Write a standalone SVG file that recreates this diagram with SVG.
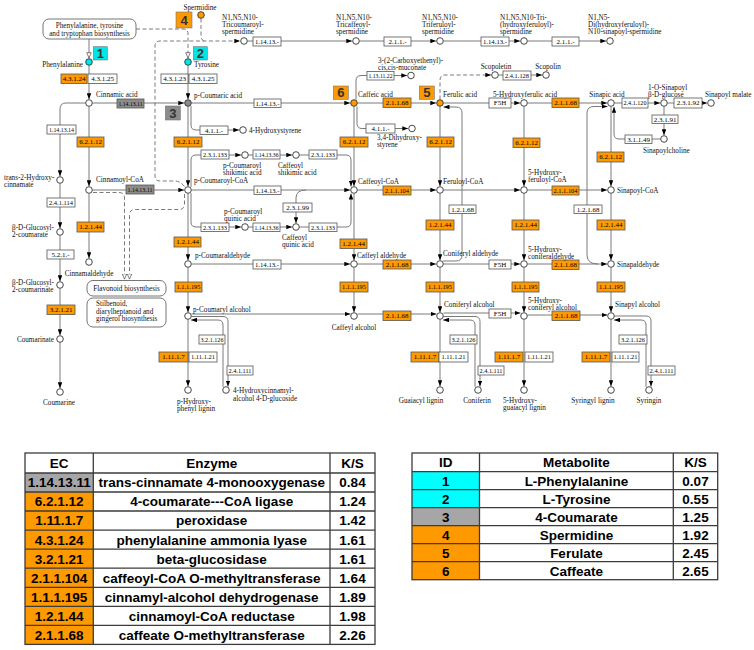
<svg xmlns="http://www.w3.org/2000/svg" width="754" height="650" viewBox="0 0 754 650">
<defs>
<marker id="ar" viewBox="0 0 8 6" refX="8" refY="3" markerWidth="6" markerHeight="4.5" markerUnits="userSpaceOnUse" orient="auto"><path d="M0,0L8,3L0,6z" fill="#000"/></marker>
<marker id="ho" viewBox="0 0 8 7" refX="8" refY="3.5" markerWidth="6" markerHeight="5.25" markerUnits="userSpaceOnUse" orient="auto"><path d="M0.5,0.5L7.5,3.5L0.5,6.5z" fill="#fff" stroke="#444" stroke-width="0.9"/></marker>
</defs>
<style>
.c{stroke:#7a7a7a;stroke-width:1;fill:none}
.a{marker-end:url(#ar)}
.h{marker-end:url(#ho)}
.d{stroke-dasharray:4 2.5}
.n{fill:#fff;stroke:#333;stroke-width:0.9}
.bx{fill:#fff;stroke:#555;stroke-width:0.8}
.o{fill:#FF9900}
.g{fill:#8C8C8C}
.cy{fill:#00E5E5}
.t{font-family:"Liberation Serif","Times New Roman",serif;font-size:7.2px;fill:#111}
.m{text-anchor:middle}
.r{text-anchor:end}
.e{font-family:"Liberation Serif","Times New Roman",serif;font-size:7px;text-anchor:middle;fill:#000}
.mp{fill:#fff;stroke:#666;stroke-width:0.9}
.nb{stroke:#777;stroke-width:0.6}
.id{font-family:"Liberation Sans",Arial,sans-serif;font-weight:bold;font-size:13px;text-anchor:middle;fill:#333}
.tb{font-family:"Liberation Sans",Arial,sans-serif;font-weight:bold;font-size:13.5px;text-anchor:middle;fill:#000}
.gl{stroke:#3c3c3c;stroke-width:1.3;fill:none}
</style>

<g id="connectors">
<path class="c h" d="M89,39V58.3"/>
<path class="c d h" d="M136,29H183Q188,29 188,34V58.3"/>
<path class="c a" d="M89,65.5V99.3"/>
<path class="c a" d="M188,65.5V99.3"/>
<path class="c a" d="M92.5,103H184.3"/>
<path class="c a" d="M85.5,103H66Q60,103 60,109V176.3"/>
<path class="c a" d="M60,183.5V228.3"/>
<path class="c a" d="M60,235.5V281.3"/>
<path class="c a" d="M60,288.5V335.3"/>
<path class="c a" d="M60,342.5V388.3"/>
<path class="c a" d="M89,106.5V186.3"/>
<path class="c a" d="M89,193.5V258.3"/>
<path class="c a" d="M92.5,190H184.3"/>
<path class="c a" d="M191.5,103H350.3"/>
<path class="c a" d="M188,106.5V186.3"/>
<path class="c a" d="M191,106V125Q191,130 196,130H239.3"/>
<path class="c a" d="M191,187V160Q191,155 196,155H241.3"/>
<path class="c a" d="M248.5,155H292.3"/>
<path class="c a" d="M299.5,155H346Q351,155 351,160V186.5"/>
<path class="c a" d="M191,193V222Q191,227 196,227H241.3"/>
<path class="c a" d="M248.5,227H292.3"/>
<path class="c a" d="M299.5,227H346Q351,227 351,222V193.5"/>
<path class="c a" d="M306,190Q296,190 296,198V223.3"/>
<path class="c a" d="M191.5,190H350.3"/>
<path class="c a" d="M188,193.5V260.3"/>
<path class="c a" d="M188,267.5V312.3"/>
<path class="c a" d="M188,319.5V386.3"/>
<path class="c a" d="M191.5,264H350.3"/>
<path class="c a" d="M191.5,314H350.5"/>
<path class="c a" d="M191.5,316.5H223Q228,316.5 228,321.5V386.5"/>
<path class="c a" d="M223,386.8V325Q223,320 218,320H191"/>
<path class="c a" d="M354,106.5V186.3"/>
<path class="c a" d="M354,193.5V260.3"/>
<path class="c a" d="M354,267.5V312.3"/>
<path class="c a" d="M356,99.5V81Q356,75.5 361,75.5H407.3"/>
<path class="c a" d="M357,106.5V123.5Q357,128.5 362,128.5H408.3"/>
<path class="c a" d="M357.5,103H436.3"/>
<path class="c a" d="M357.5,190H436.3"/>
<path class="c a" d="M357.5,264H436.3"/>
<path class="c a" d="M357.5,314H436.5"/>
<path class="c a" d="M440,106.5V186.3"/>
<path class="c a" d="M440,193.5V260.3"/>
<path class="c a" d="M440,267.5V312.3"/>
<path class="c a" d="M440,319.5V386.3"/>
<path class="c d a" d="M440,99.5V80Q440,75 445,75H491.3"/>
<path class="c a" d="M498.5,75H542.3"/>
<path class="c a" d="M443,261H456Q462,261 462,255V113Q462,107 456,107H443.5"/>
<path class="c a" d="M443.5,316.5H475Q480,316.5 480,321.5V386.5"/>
<path class="c a" d="M475,386.8V325Q475,320 470,320H443"/>
<path class="c a" d="M443.5,103H520.3"/>
<path class="c a" d="M443.5,190H520.3"/>
<path class="c a" d="M443.5,264H520.3"/>
<path class="c a" d="M443.5,313H520.5"/>
<path class="c a" d="M524,106.5V186.3"/>
<path class="c a" d="M524,193.5V260.3"/>
<path class="c a" d="M524,267.5V312.3"/>
<path class="c a" d="M524,319.5V386.3"/>
<path class="c a" d="M527.5,103H607.3"/>
<path class="c a" d="M527.5,190H607.3"/>
<path class="c a" d="M527.5,264H607.3"/>
<path class="c a" d="M527.5,315H607.5"/>
<path class="c a" d="M611,106.5V186.3"/>
<path class="c a" d="M611,193.5V260.3"/>
<path class="c a" d="M611,267.5V312.3"/>
<path class="c a" d="M611,319.5V386.3"/>
<path class="c a" d="M598,264Q587,264 587,255V113Q587,106.5 594,106.5H607.5"/>
<path class="c a" d="M614.5,316H646Q651,316 651,321V386.5"/>
<path class="c a" d="M646,386.8V325Q646,320 641,320H614"/>
<path class="c a" d="M614.5,103H660.3"/>
<path class="c a" d="M667.5,103H707.3"/>
<path class="c a" d="M664,106.5V135.3"/>
<path class="c a" d="M660.5,139H619Q614,139 614,134V106.8"/>
<path class="c a" d="M247.5,41H352.3"/>
<path class="c a" d="M359.5,41H436.3"/>
<path class="c a" d="M443.5,41H520.3"/>
<path class="c a" d="M527.5,41H606.3"/>
<path class="c d" d="M201,18.5V36Q201,41 206,41"/>
<path class="c d a" d="M184.5,186.5Q180,181 175,181H160Q155,181 155,176V46Q155,41 160,41H240.3"/>
<path class="c d h" d="M93,192.5H119Q124.5,192.5 124.5,198V279.5"/>
<path class="c d h" d="M184.5,194V204Q184.5,209.5 179,209.5H135Q129.5,209.5 129.5,215V279.5"/>
</g>

<g id="maps">
<g id="map_phe"><rect class="mp" x="43" y="19" width="93" height="20" rx="6"/><text class="t m" x="89.5" y="28">Phenylalanine, tyrosine</text><text class="t m" x="89.5" y="35.5">and tryptophan biosynthesis</text></g>
<g id="map_flav"><rect class="mp" x="87" y="280.5" width="79" height="15.5" rx="6"/><text class="t m" x="126.5" y="291">Flavonoid biosynthesis</text></g>
<g id="map_stil"><rect class="mp" x="87" y="298" width="79" height="29" rx="6"/><text class="t" x="96" y="306">Stilbenoid,</text><text class="t" x="96" y="313.5">diarylheptanoid and</text><text class="t" x="96" y="321">gingerol biosynthesis</text></g>
</g>

<g id="enzymes">
<g id="e01"><rect class="bx" x="253" y="37" width="28" height="9"/><text class="e" x="267" y="43.9" textLength="24" lengthAdjust="spacingAndGlyphs">1.14.13.-</text></g>
<g id="e02"><rect class="bx" x="384" y="37" width="27" height="9"/><text class="e" x="397.5" y="43.9">2.1.1.-</text></g>
<g id="e03"><rect class="bx" x="481" y="37" width="28" height="9"/><text class="e" x="495" y="43.9" textLength="24" lengthAdjust="spacingAndGlyphs">1.14.13.-</text></g>
<g id="e04"><rect class="bx" x="552" y="37" width="27" height="9"/><text class="e" x="565.5" y="43.9">2.1.1.-</text></g>
<g id="e05"><rect class="bx o" x="61" y="74" width="26" height="9.5"/><text class="e" x="74" y="81.15">4.3.1.24</text></g>
<g id="e06"><rect class="bx" x="88" y="74" width="29" height="9.5"/><text class="e" x="102.5" y="81.15">4.3.1.25</text></g>
<g id="e07"><rect class="bx" x="161" y="74" width="27" height="9.5"/><text class="e" x="174.5" y="81.15">4.3.1.23</text></g>
<g id="e08"><rect class="bx" x="189" y="74" width="28" height="9.5"/><text class="e" x="203" y="81.15">4.3.1.25</text></g>
<g id="e09"><rect class="bx g" x="117" y="99" width="27" height="9"/><text class="e" x="130.5" y="105.9" textLength="24" lengthAdjust="spacingAndGlyphs">1.14.13.11</text></g>
<g id="e10"><rect class="bx" x="254" y="99" width="27" height="8.5"/><text class="e" x="267.5" y="105.65" textLength="24" lengthAdjust="spacingAndGlyphs">1.14.13.-</text></g>
<g id="e11"><rect class="bx o" x="383" y="98" width="28" height="9.5"/><text class="e" x="397" y="105.15">2.1.1.68</text></g>
<g id="e12"><rect class="bx" x="489" y="98" width="22" height="10"/><text class="e" x="500" y="105.4">F5H</text></g>
<g id="e13"><rect class="bx o" x="552" y="98" width="27" height="9.5"/><text class="e" x="565.5" y="105.15">2.1.1.68</text></g>
<g id="e14"><rect class="bx" x="622" y="98" width="26" height="10"/><text class="e" x="635" y="105.4" textLength="23" lengthAdjust="spacingAndGlyphs">2.4.1.120</text></g>
<g id="e15"><rect class="bx" x="674" y="98" width="28" height="10"/><text class="e" x="688" y="105.4">2.3.1.92</text></g>
<g id="e16"><rect class="bx" x="367" y="71.5" width="27" height="8.5"/><text class="e" x="380.5" y="78.15" textLength="24" lengthAdjust="spacingAndGlyphs">1.13.11.22</text></g>
<g id="e17"><rect class="bx" x="200" y="126" width="28" height="8.5"/><text class="e" x="214" y="132.65">4.1.1.-</text></g>
<g id="e18"><rect class="bx" x="366" y="124" width="29" height="9"/><text class="e" x="380.5" y="130.9">4.1.1.-</text></g>
<g id="e19"><rect class="bx" x="503" y="71" width="28" height="9"/><text class="e" x="517" y="77.9" textLength="24" lengthAdjust="spacingAndGlyphs">2.4.1.128</text></g>
<g id="e20"><rect class="bx" x="652" y="115" width="26" height="8.5"/><text class="e" x="665" y="121.65">2.3.1.91</text></g>
<g id="e21"><rect class="bx" x="625" y="135" width="27" height="8.5"/><text class="e" x="638.5" y="141.65">3.1.1.49</text></g>
<g id="e22"><rect class="bx" x="47" y="125" width="29" height="9"/><text class="e" x="61.5" y="131.9" textLength="25" lengthAdjust="spacingAndGlyphs">1.14.13.14</text></g>
<g id="e23"><rect class="bx o" x="77" y="137" width="27" height="10"/><text class="e" x="90.5" y="144.4">6.2.1.12</text></g>
<g id="e24"><rect class="bx o" x="174" y="137" width="28" height="10"/><text class="e" x="188" y="144.4">6.2.1.12</text></g>
<g id="e25"><rect class="bx o" x="340" y="137" width="28" height="10"/><text class="e" x="354" y="144.4">6.2.1.12</text></g>
<g id="e26"><rect class="bx o" x="427" y="137" width="27" height="10"/><text class="e" x="440.5" y="144.4">6.2.1.12</text></g>
<g id="e27"><rect class="bx o" x="513" y="138" width="27" height="9.5"/><text class="e" x="526.5" y="145.15">6.2.1.12</text></g>
<g id="e28"><rect class="bx o" x="597" y="152" width="27" height="10"/><text class="e" x="610.5" y="159.4">6.2.1.12</text></g>
<g id="e29"><rect class="bx" x="47" y="198" width="28" height="9"/><text class="e" x="61" y="204.9" textLength="24" lengthAdjust="spacingAndGlyphs">2.4.1.114</text></g>
<g id="e30"><rect class="bx g" x="126" y="185" width="28" height="9"/><text class="e" x="140" y="191.9" textLength="25" lengthAdjust="spacingAndGlyphs">1.14.13.11</text></g>
<g id="e31"><rect class="bx" x="201" y="150" width="28" height="9"/><text class="e" x="215" y="156.9" textLength="24" lengthAdjust="spacingAndGlyphs">2.3.1.133</text></g>
<g id="e32"><rect class="bx" x="253" y="150" width="27" height="9"/><text class="e" x="266.5" y="156.9" textLength="24" lengthAdjust="spacingAndGlyphs">1.14.13.36</text></g>
<g id="e33"><rect class="bx" x="309" y="150" width="28" height="9"/><text class="e" x="323" y="156.9" textLength="24" lengthAdjust="spacingAndGlyphs">2.3.1.133</text></g>
<g id="e34"><rect class="bx" x="254" y="186" width="27" height="8.5"/><text class="e" x="267.5" y="192.65" textLength="24" lengthAdjust="spacingAndGlyphs">1.14.13.-</text></g>
<g id="e35"><rect class="bx" x="283" y="203" width="29" height="9"/><text class="e" x="297.5" y="209.9">2.3.1.99</text></g>
<g id="e36"><rect class="bx" x="201" y="223" width="28" height="8.5"/><text class="e" x="215" y="229.65" textLength="24" lengthAdjust="spacingAndGlyphs">2.3.1.133</text></g>
<g id="e37"><rect class="bx" x="253" y="223" width="27" height="8.5"/><text class="e" x="266.5" y="229.65" textLength="24" lengthAdjust="spacingAndGlyphs">1.14.13.36</text></g>
<g id="e38"><rect class="bx" x="309" y="223" width="28" height="8.5"/><text class="e" x="323" y="229.65" textLength="24" lengthAdjust="spacingAndGlyphs">2.3.1.133</text></g>
<g id="e39"><rect class="bx o" x="383" y="186" width="28" height="9"/><text class="e" x="397" y="192.9" textLength="24" lengthAdjust="spacingAndGlyphs">2.1.1.104</text></g>
<g id="e40"><rect class="bx o" x="552" y="186" width="27" height="9"/><text class="e" x="565.5" y="192.9" textLength="24" lengthAdjust="spacingAndGlyphs">2.1.1.104</text></g>
<g id="e41"><rect class="bx" x="449" y="205" width="27" height="8.5"/><text class="e" x="462.5" y="211.65">1.2.1.68</text></g>
<g id="e42"><rect class="bx" x="574" y="205" width="28" height="8.5"/><text class="e" x="588" y="211.65">1.2.1.68</text></g>
<g id="e43"><rect class="bx o" x="77" y="222" width="27" height="10"/><text class="e" x="90.5" y="229.4">1.2.1.44</text></g>
<g id="e44"><rect class="bx o" x="174" y="237" width="27" height="10"/><text class="e" x="187.5" y="244.4">1.2.1.44</text></g>
<g id="e45"><rect class="bx o" x="340" y="239" width="27" height="9.5"/><text class="e" x="353.5" y="246.15">1.2.1.44</text></g>
<g id="e46"><rect class="bx o" x="426" y="220" width="28" height="10"/><text class="e" x="440" y="227.4">1.2.1.44</text></g>
<g id="e47"><rect class="bx o" x="512" y="220" width="27" height="10"/><text class="e" x="525.5" y="227.4">1.2.1.44</text></g>
<g id="e48"><rect class="bx o" x="597" y="220" width="28" height="10"/><text class="e" x="611" y="227.4">1.2.1.44</text></g>
<g id="e49"><rect class="bx" x="47" y="250" width="27" height="9"/><text class="e" x="60.5" y="256.9">5.2.1.-</text></g>
<g id="e50"><rect class="bx" x="253" y="260" width="28" height="9"/><text class="e" x="267" y="266.9" textLength="24" lengthAdjust="spacingAndGlyphs">1.14.13.-</text></g>
<g id="e51"><rect class="bx o" x="383" y="260" width="28" height="9"/><text class="e" x="397" y="266.9">2.1.1.68</text></g>
<g id="e52"><rect class="bx" x="489" y="260" width="22" height="9"/><text class="e" x="500" y="266.9">F5H</text></g>
<g id="e53"><rect class="bx o" x="552" y="260" width="27" height="9.5"/><text class="e" x="565.5" y="267.15">2.1.1.68</text></g>
<g id="e54"><rect class="bx o" x="175" y="282" width="27" height="10"/><text class="e" x="188.5" y="289.4" textLength="24" lengthAdjust="spacingAndGlyphs">1.1.1.195</text></g>
<g id="e55"><rect class="bx o" x="340" y="282" width="28" height="10"/><text class="e" x="354" y="289.4" textLength="24" lengthAdjust="spacingAndGlyphs">1.1.1.195</text></g>
<g id="e56"><rect class="bx o" x="426" y="282" width="28" height="10"/><text class="e" x="440" y="289.4" textLength="24" lengthAdjust="spacingAndGlyphs">1.1.1.195</text></g>
<g id="e57"><rect class="bx o" x="512" y="282" width="27" height="10"/><text class="e" x="525.5" y="289.4" textLength="24" lengthAdjust="spacingAndGlyphs">1.1.1.195</text></g>
<g id="e58"><rect class="bx o" x="597" y="282" width="28" height="10"/><text class="e" x="611" y="289.4" textLength="24" lengthAdjust="spacingAndGlyphs">1.1.1.195</text></g>
<g id="e59"><rect class="bx o" x="47" y="305" width="28" height="9.5"/><text class="e" x="61" y="312.15">3.2.1.21</text></g>
<g id="e60"><rect class="bx o" x="383" y="311" width="28" height="9.5"/><text class="e" x="397" y="318.15">2.1.1.68</text></g>
<g id="e61"><rect class="bx" x="489" y="309" width="22" height="9"/><text class="e" x="500" y="315.9">F5H</text></g>
<g id="e62"><rect class="bx o" x="552" y="311" width="28" height="9.5"/><text class="e" x="566" y="318.15">2.1.1.68</text></g>
<g id="e63"><rect class="bx" x="199" y="335" width="26" height="9"/><text class="e" x="212" y="341.9" textLength="23" lengthAdjust="spacingAndGlyphs">3.2.1.126</text></g>
<g id="e64"><rect class="bx" x="450" y="335" width="27" height="9"/><text class="e" x="463.5" y="341.9" textLength="24" lengthAdjust="spacingAndGlyphs">3.2.1.126</text></g>
<g id="e65"><rect class="bx" x="619" y="335" width="28" height="9"/><text class="e" x="633" y="341.9" textLength="24" lengthAdjust="spacingAndGlyphs">3.2.1.126</text></g>
<g id="e66"><rect class="bx o" x="159" y="352" width="29" height="10"/><text class="e" x="173.5" y="359.4">1.11.1.7</text></g>
<g id="e67"><rect class="bx o" x="411" y="352" width="28" height="10"/><text class="e" x="425" y="359.4">1.11.1.7</text></g>
<g id="e68"><rect class="bx o" x="495" y="352" width="28" height="10"/><text class="e" x="509" y="359.4">1.11.1.7</text></g>
<g id="e69"><rect class="bx o" x="582" y="352" width="28" height="10"/><text class="e" x="596" y="359.4">1.11.1.7</text></g>
<g id="e70"><rect class="bx" x="189" y="352" width="28" height="10"/><text class="e" x="203" y="359.4" textLength="24" lengthAdjust="spacingAndGlyphs">1.11.1.21</text></g>
<g id="e71"><rect class="bx" x="439" y="352" width="29" height="10"/><text class="e" x="453.5" y="359.4" textLength="24" lengthAdjust="spacingAndGlyphs">1.11.1.21</text></g>
<g id="e72"><rect class="bx" x="525" y="352" width="28" height="10"/><text class="e" x="539" y="359.4" textLength="24" lengthAdjust="spacingAndGlyphs">1.11.1.21</text></g>
<g id="e73"><rect class="bx" x="612" y="352" width="27" height="10"/><text class="e" x="625.5" y="359.4" textLength="24" lengthAdjust="spacingAndGlyphs">1.11.1.21</text></g>
<g id="e74"><rect class="bx" x="227" y="366" width="26" height="9"/><text class="e" x="240" y="372.9" textLength="23" lengthAdjust="spacingAndGlyphs">2.4.1.111</text></g>
<g id="e75"><rect class="bx" x="478" y="366" width="26" height="9"/><text class="e" x="491" y="372.9" textLength="23" lengthAdjust="spacingAndGlyphs">2.4.1.111</text></g>
<g id="e76"><rect class="bx" x="648" y="366" width="27" height="9"/><text class="e" x="661.5" y="372.9" textLength="24" lengthAdjust="spacingAndGlyphs">2.4.1.111</text></g>
</g>

<g id="compounds">
<g id="c_spd"><circle class="n o" cx="201" cy="15" r="3.3"/><text class="t m" x="200" y="9.5">Spermidine</text></g>
<g id="c_tricou"><circle class="n" cx="244" cy="41" r="3.3"/><text class="t" x="222" y="19.5">N1,N5,N10-</text><text class="t" x="222" y="26.5">Tricoumaroyl-</text><text class="t" x="222" y="33.5">spermidine</text></g>
<g id="c_tricaf"><circle class="n" cx="356" cy="41" r="3.3"/><text class="t" x="336" y="19.5">N1,N5,N10-</text><text class="t" x="336" y="26.5">Tricaffeoyl-</text><text class="t" x="336" y="33.5">spermidine</text></g>
<g id="c_trifer"><circle class="n" cx="440" cy="41" r="3.3"/><text class="t" x="422" y="19.5">N1,N5,N10-</text><text class="t" x="422" y="26.5">Triferuloyl-</text><text class="t" x="422" y="33.5">spermidine</text></g>
<g id="c_trihf"><circle class="n" cx="524" cy="41" r="3.3"/><text class="t" x="500" y="19.5">N1,N5,N10-Tri-</text><text class="t" x="500" y="26.5">(hydroxyferuloyl)-</text><text class="t" x="500" y="33.5">spermidine</text></g>
<g id="c_dihf"><circle class="n" cx="610" cy="41" r="3.3"/><text class="t" x="588" y="19.5">N1,N5-</text><text class="t" x="588" y="26.5">Di(hydroxyferuloyl)-</text><text class="t" x="588" y="33.5">N10-sinapoyl-spermidine</text></g>
<g id="c_phe"><circle class="n cy" cx="89" cy="62" r="3.3"/><text class="t r" x="83" y="66.5">Phenylalanine</text></g>
<g id="c_tyr"><circle class="n cy" cx="188" cy="62" r="3.3"/><text class="t" x="194" y="66.5">Tyrosine</text></g>
<g id="c_cin"><circle class="n" cx="89" cy="103" r="3.3"/><text class="t" x="96" y="96.5">Cinnamic acid</text></g>
<g id="c_pcou"><circle class="n g" cx="188" cy="103" r="3.3"/><text class="t" x="194" y="98">p-Coumaric acid</text></g>
<g id="c_hsty"><circle class="n" cx="243" cy="130" r="3.3"/><text class="t" x="249" y="133">4-Hydroxystyrene</text></g>
<g id="c_caf"><circle class="n o" cx="354" cy="103" r="3.3"/><text class="t" x="358" y="97">Caffeic acid</text></g>
<g id="c_cmuc"><circle class="n" cx="411" cy="75.5" r="3.3"/><text class="t" x="378" y="62.5">3-(2-Carboxyethenyl)-</text><text class="t" x="378" y="69.5">cis,cis-muconate</text></g>
<g id="c_dhs"><circle class="n" cx="412" cy="128.5" r="3.3"/><text class="t" x="377" y="140">3,4-Dihydroxy-</text><text class="t" x="377" y="147">styrene</text></g>
<g id="c_fer"><circle class="n o" cx="440" cy="103" r="3.3"/><text class="t" x="443" y="97">Ferulic acid</text></g>
<g id="c_scop"><circle class="n" cx="495" cy="75" r="3.3"/><text class="t m" x="496" y="69">Scopoletin</text></g>
<g id="c_scopn"><circle class="n" cx="546" cy="75" r="3.3"/><text class="t m" x="548" y="69">Scopolin</text></g>
<g id="c_hfer"><circle class="n" cx="524" cy="103" r="3.3"/><text class="t" x="493" y="97">5-Hydroxyferulic acid</text></g>
<g id="c_sin"><circle class="n" cx="611" cy="103" r="3.3"/><text class="t m" x="607" y="97">Sinapic acid</text></g>
<g id="c_sglu"><circle class="n" cx="664" cy="103" r="3.3"/><text class="t" x="648" y="89.5">1-O-Sinapoyl</text><text class="t" x="648" y="96.5">β-D-glucose</text></g>
<g id="c_smal"><circle class="n" cx="711" cy="103" r="3.3"/><text class="t" x="705" y="97">Sinapoyl malate</text></g>
<g id="c_schol"><circle class="n" cx="664" cy="139" r="3.3"/><text class="t" x="643" y="153">Sinapoylcholine</text></g>
<g id="c_t2h"><circle class="n" cx="60" cy="180" r="3.3"/><text class="t" x="4" y="180">trans-2-Hydroxy-</text><text class="t" x="4" y="187">cinnamate</text></g>
<g id="c_cincoa"><circle class="n" cx="89" cy="190" r="3.3"/><text class="t" x="96" y="181.5">Cinnamoyl-CoA</text></g>
<g id="c_pcoa"><circle class="n" cx="188" cy="190" r="3.3"/><text class="t" x="194" y="183">p-Coumaroyl-CoA</text></g>
<g id="c_pcsh"><circle class="n" cx="245" cy="155" r="3.3"/><text class="t" x="223" y="167.5">p-Coumaroyl</text><text class="t" x="223" y="174.5">shikimic acid</text></g>
<g id="c_cfsh"><circle class="n" cx="296" cy="155" r="3.3"/><text class="t" x="278" y="167.5">Caffeoyl</text><text class="t" x="278" y="174.5">shikimic acid</text></g>
<g id="c_pcqu"><circle class="n" cx="245" cy="227" r="3.3"/><text class="t" x="224" y="213.5">p-Coumaroyl</text><text class="t" x="224" y="220.5">quinic acid</text></g>
<g id="c_cfqu"><circle class="n" cx="296" cy="227" r="3.3"/><text class="t" x="282" y="240">Caffeoyl</text><text class="t" x="282" y="247">quinic acid</text></g>
<g id="c_cafcoa"><circle class="n" cx="354" cy="190" r="3.3"/><text class="t" x="358" y="183.5">Caffeoyl-CoA</text></g>
<g id="c_fercoa"><circle class="n" cx="440" cy="190" r="3.3"/><text class="t" x="443" y="183.5">Feruloyl-CoA</text></g>
<g id="c_hfcoa"><circle class="n" cx="524" cy="190" r="3.3"/><text class="t" x="528" y="174.5">5-Hydroxy-</text><text class="t" x="528" y="182">feruloyl-CoA</text></g>
<g id="c_sincoa"><circle class="n" cx="611" cy="190" r="3.3"/><text class="t" x="617" y="192.5">Sinapoyl-CoA</text></g>
<g id="c_glc2c"><circle class="n" cx="60" cy="232" r="3.3"/><text class="t" x="12" y="229.5">β-D-Glucosyl-</text><text class="t" x="12" y="237">2-coumarate</text></g>
<g id="c_glc2cn"><circle class="n" cx="60" cy="285" r="3.3"/><text class="t" x="12" y="284.5">β-D-Glucosyl-</text><text class="t" x="12" y="292">2-coumarinate</text></g>
<g id="c_cinald"><circle class="n" cx="89" cy="262" r="3.3"/><text class="t m" x="89" y="275.5">Cinnamaldehyde</text></g>
<g id="c_pcald"><circle class="n" cx="188" cy="264" r="3.3"/><text class="t" x="195" y="258">p-Coumaraldehyde</text></g>
<g id="c_cfald"><circle class="n" cx="354" cy="264" r="3.3"/><text class="t" x="357" y="258">Caffeyl aldehyde</text></g>
<g id="c_coald"><circle class="n" cx="440" cy="264" r="3.3"/><text class="t" x="443" y="256">Coniferyl aldehyde</text></g>
<g id="c_hcald"><circle class="n" cx="524" cy="264" r="3.3"/><text class="t" x="528" y="251.5">5-Hydroxy-</text><text class="t" x="528" y="258.5">coniferaldehyde</text></g>
<g id="c_sinald"><circle class="n" cx="611" cy="264" r="3.3"/><text class="t" x="617" y="266.5">Sinapaldehyde</text></g>
<g id="c_pcalc"><circle class="n" cx="188" cy="316" r="3.3"/><text class="t" x="193" y="311.5">p-Coumaryl alcohol</text></g>
<g id="c_cfalc"><circle class="n" cx="354" cy="316" r="3.3"/><text class="t m" x="354" y="329.5">Caffeyl alcohol</text></g>
<g id="c_coalc"><circle class="n" cx="440" cy="316" r="3.3"/><text class="t" x="444" y="307">Coniferyl alcohol</text></g>
<g id="c_hcalc"><circle class="n" cx="524" cy="316" r="3.3"/><text class="t" x="528" y="302.5">5-Hydroxy-</text><text class="t" x="528" y="309.5">coniferyl alcohol</text></g>
<g id="c_sinalc"><circle class="n" cx="611" cy="316" r="3.3"/><text class="t" x="615" y="307">Sinapyl alcohol</text></g>
<g id="c_cmarn"><circle class="n" cx="60" cy="339" r="3.3"/><text class="t r" x="54" y="341.5">Coumarinate</text></g>
<g id="c_cmar"><circle class="n" cx="60" cy="392" r="3.3"/><text class="t m" x="59" y="404.5">Coumarine</text></g>
<g id="c_phl"><circle class="n" cx="188" cy="390" r="3.3"/><text class="t" x="177" y="403.5">p-Hydroxy-</text><text class="t" x="177" y="410.5">phenyl lignin</text></g>
<g id="c_hcg"><circle class="n" cx="226" cy="390" r="3.3"/><text class="t" x="233" y="393">4-Hydroxycinnamyl-</text><text class="t" x="233" y="400.5">alcohol 4-D-glucoside</text></g>
<g id="c_gl"><circle class="n" cx="440" cy="390" r="3.3"/><text class="t m" x="421" y="403">Guaiacyl lignin</text></g>
<g id="c_conif"><circle class="n" cx="478" cy="390" r="3.3"/><text class="t m" x="477" y="403">Coniferin</text></g>
<g id="c_hgl"><circle class="n" cx="524" cy="390" r="3.3"/><text class="t" x="503" y="402.5">5-Hydroxy-</text><text class="t" x="503" y="409.5">guaiacyl lignin</text></g>
<g id="c_sl"><circle class="n" cx="611" cy="390" r="3.3"/><text class="t m" x="593" y="403">Syringyl lignin</text></g>
<g id="c_syr"><circle class="n" cx="649" cy="390" r="3.3"/><text class="t m" x="649" y="403">Syringin</text></g>
</g>

<g id="ids">
<g id="id1"><rect class="nb cy" x="93.3" y="46.7" width="14" height="13.3"/><text class="id" x="100.3" y="58">1</text></g>
<g id="id2"><rect class="nb cy" x="193.3" y="46.7" width="14" height="13.3"/><text class="id" x="200.3" y="58">2</text></g>
<g id="id3"><rect class="nb g" x="165.3" y="106" width="15" height="14"/><text class="id" x="172.8" y="117.8">3</text></g>
<g id="id4"><rect class="nb o" x="176" y="12" width="16" height="16"/><text class="id" x="184" y="24.8">4</text></g>
<g id="id5"><rect class="nb o" x="419.3" y="86" width="15" height="13.3"/><text class="id" x="426.8" y="97.4">5</text></g>
<g id="id6"><rect class="nb o" x="333.3" y="86" width="15" height="13.3"/><text class="id" x="340.8" y="97.4">6</text></g>
</g>

<g id="table_enzymes">
<rect x="25" y="473" width="68.3" height="19" fill="#A6A6A6"/>
<rect x="25" y="492" width="68.3" height="152.4" fill="#FF9900"/>
<rect class="gl" x="25" y="453" width="350" height="191.4"/>
<path class="gl" d="M93.3,453V644.4M330,453V644.4M25,473H375M25,492H375M25,511H375M25,530.1H375M25,549.2H375M25,568.2H375M25,587.3H375M25,606.3H375M25,625.4H375"/>
<text class="tb" x="59.2" y="468">EC</text><text class="tb" x="211.7" y="468">Enzyme</text><text class="tb" x="352.5" y="468">K/S</text>
<text class="tb" x="59.2" y="487.3">1.14.13.11</text><text class="tb" x="211.7" y="487.3">trans-cinnamate 4-monooxygenase</text><text class="tb" x="352.5" y="487.3">0.84</text>
<text class="tb" x="59.2" y="506.3">6.2.1.12</text><text class="tb" x="211.7" y="506.3">4-coumarate---CoA ligase</text><text class="tb" x="352.5" y="506.3">1.24</text>
<text class="tb" x="59.2" y="525.4">1.11.1.7</text><text class="tb" x="211.7" y="525.4">peroxidase</text><text class="tb" x="352.5" y="525.4">1.42</text>
<text class="tb" x="59.2" y="544.5">4.3.1.24</text><text class="tb" x="211.7" y="544.5">phenylalanine ammonia lyase</text><text class="tb" x="352.5" y="544.5">1.61</text>
<text class="tb" x="59.2" y="563.5">3.2.1.21</text><text class="tb" x="211.7" y="563.5">beta-glucosidase</text><text class="tb" x="352.5" y="563.5">1.61</text>
<text class="tb" x="59.2" y="582.6">2.1.1.104</text><text class="tb" x="211.7" y="582.6">caffeoyl-CoA O-methyltransferase</text><text class="tb" x="352.5" y="582.6">1.64</text>
<text class="tb" x="59.2" y="601.6">1.1.1.195</text><text class="tb" x="211.7" y="601.6">cinnamyl-alcohol dehydrogenase</text><text class="tb" x="352.5" y="601.6">1.89</text>
<text class="tb" x="59.2" y="620.7">1.2.1.44</text><text class="tb" x="211.7" y="620.7">cinnamoyl-CoA reductase</text><text class="tb" x="352.5" y="620.7">1.98</text>
<text class="tb" x="59.2" y="639.7">2.1.1.68</text><text class="tb" x="211.7" y="639.7">caffeate O-methyltransferase</text><text class="tb" x="352.5" y="639.7">2.26</text>
</g>

<g id="table_metabolites">
<rect x="412" y="471.7" width="67.5" height="36" fill="#00FFFF"/>
<rect x="412" y="507.7" width="67.5" height="18" fill="#A6A6A6"/>
<rect x="412" y="525.7" width="67.5" height="54" fill="#FF9900"/>
<rect class="gl" x="412" y="453" width="305.7" height="126.7"/>
<path class="gl" d="M479.5,453V579.7M673.3,453V579.7M412,471.7H717.7M412,489.7H717.7M412,507.7H717.7M412,525.7H717.7M412,543.7H717.7M412,561.7H717.7"/>
<text class="tb" x="445.7" y="467">ID</text><text class="tb" x="576.4" y="467">Metabolite</text><text class="tb" x="695.5" y="467">K/S</text>
<text class="tb" x="445.7" y="485.5">1</text><text class="tb" x="576.4" y="485.5">L-Phenylalanine</text><text class="tb" x="695.5" y="485.5">0.07</text>
<text class="tb" x="445.7" y="503.5">2</text><text class="tb" x="576.4" y="503.5">L-Tyrosine</text><text class="tb" x="695.5" y="503.5">0.55</text>
<text class="tb" x="445.7" y="521.5">3</text><text class="tb" x="576.4" y="521.5">4-Coumarate</text><text class="tb" x="695.5" y="521.5">1.25</text>
<text class="tb" x="445.7" y="539.5">4</text><text class="tb" x="576.4" y="539.5">Spermidine</text><text class="tb" x="695.5" y="539.5">1.92</text>
<text class="tb" x="445.7" y="557.5">5</text><text class="tb" x="576.4" y="557.5">Ferulate</text><text class="tb" x="695.5" y="557.5">2.45</text>
<text class="tb" x="445.7" y="575.5">6</text><text class="tb" x="576.4" y="575.5">Caffeate</text><text class="tb" x="695.5" y="575.5">2.65</text>
</g>
</svg>
